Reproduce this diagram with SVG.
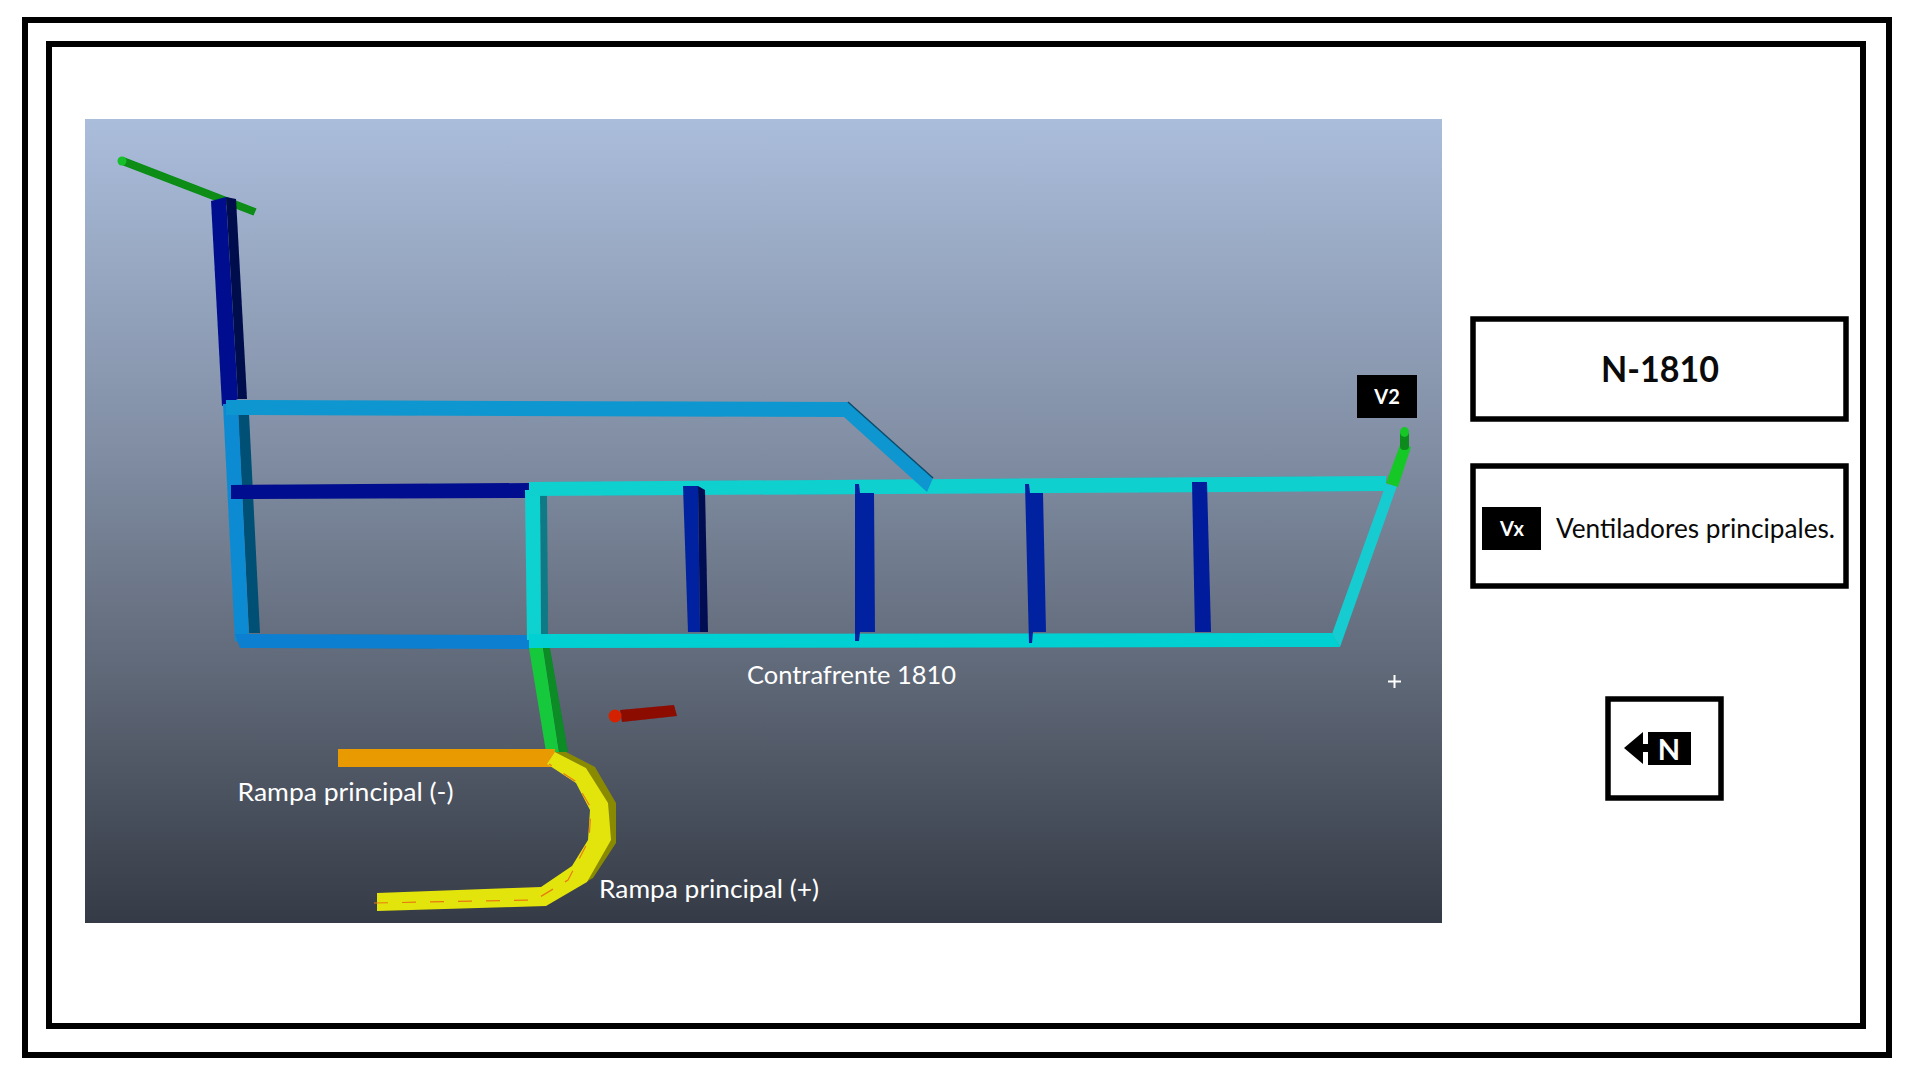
<svg xmlns="http://www.w3.org/2000/svg" width="1919" height="1079" viewBox="0 0 1919 1079">
<style>
.frame{fill:none;stroke:#000;stroke-width:6}
.box{fill:#fff;stroke:#000;stroke-width:5.5}
.w{fill:#fff;font-family:"Lato","Open Sans",sans-serif}
.k{fill:#0a0a0a;font-family:"Lato","Open Sans",sans-serif}
.b{font-weight:700}
.lbl{font-size:25px}
.dash{fill:none;stroke:#e87a10;stroke-width:1.2;stroke-dasharray:14 14}
</style>
<defs>
<linearGradient id="sky" x1="0" y1="0" x2="0" y2="1">
<stop offset="0" stop-color="#aabddb"/>
<stop offset=".4" stop-color="#828fa5"/>
<stop offset=".7" stop-color="#5e6776"/>
<stop offset="1" stop-color="#353b46"/>
</linearGradient>
<filter id="soft" x="-5%" y="-5%" width="110%" height="110%"><feGaussianBlur stdDeviation="0.6"/></filter>
</defs>
<rect width="1919" height="1079" fill="#fff"/>
<rect class="frame" x="25" y="20" width="1864" height="1035"/>
<rect class="frame" x="49" y="44" width="1814" height="982"/>
<rect id="scene" x="85" y="119" width="1357" height="804" fill="url(#sky)"/>
<g id="connectors" filter="url(#soft)">
<polygon points="123.5,157 256.5,208.5 253.5,215.5 120.5,164.5" fill="#078c12"/>
<circle cx="122" cy="161" r="4.5" fill="#14c02a"/>
<polygon points="211,201 226,197 238,399 222,406" fill="#00108e"/>
<polygon points="226,197 236,199 247,399 238,399" fill="#000a4e"/>
<polygon points="238,414 249,414 260,633 249,633" fill="#004f75"/>
<polygon points="223,404 238,404 249,636 235,642" fill="#0e8bd2"/>
<polygon points="231,485 529,483 529,498 231,499" fill="#00108e"/>
<polygon points="235,634 529,635 529,649 240,648" fill="#0a7fd0"/>
<polygon points="540,495 547,495 548,634 541,634" fill="#087a85"/>
<polygon points="525,490 540,490 541,640 527,640" fill="#0fd2cf"/>
<polygon points="529,482 1386,476 1386,491 529,496" fill="#0dd0cf"/>
<polygon points="529,634 1332,633 1340,647 529,648" fill="#05d0d2"/>
<polygon points="1386,484 1397,486 1340,647 1332,634" fill="#14ccd0"/>
<polygon points="226,400 848,402 933,478 927,492 844,417 226,415" fill="#0b96d0"/>
<polyline points="848,402 933,478" fill="none" stroke="#0a4a6a" stroke-width="1.5"/>
<polygon points="683,486 698,486 700,632 688,632" fill="#0022a0"/>
<polygon points="698,486 705,490 708,632 700,632" fill="#000a52"/>
<polygon points="855,484 859,484 860,493 874,493 875,632 860,632 859,641 855,641" fill="#0022a0"/>
<polygon points="1025,484 1029,484 1030,493 1043,493 1046,632 1033,632 1032,643 1029,643" fill="#0022a0"/>
<polygon points="1192,482 1207,482 1211,632 1195,632" fill="#001a9c"/>
<polygon points="529,648 543,648 559,752 546,752" fill="#14c83a"/>
<polygon points="543,648 550,648 568,752 559,752" fill="#078c28"/>
<rect x="338" y="749" width="217" height="18" fill="#e89a06"/>
<polygon points="566,752 595,767 616,803 616,843 593,878 586,882 607,803 586,768 555,752" fill="#8a8a06"/>
<polygon points="555,752 586,768 608,803 611,840 587,882 546,906 377,911 377,893 541,887 572,866 588,840 590,810 576,783 547,764" fill="#e4e40a"/>
<polyline class="dash" points="374,903 535,900 568,880 589,840 591,808 575,781 549,764"/>
<polygon points="620,710 674,705 677,716 622,722" fill="#8c0a00"/>
<circle cx="615" cy="716" r="6.5" fill="#d42400"/>
<polygon points="1386,483 1398,487 1411,447 1400,445" fill="#14c828"/>
<rect x="1400" y="430" width="9" height="20" rx="4" fill="#0a8a1e"/>
<ellipse cx="1404.5" cy="432" rx="4.5" ry="5" fill="#14c828"/>
</g>
<g id="v2"><rect x="1357" y="375" width="60" height="43" fill="#000"/><text class="w b" x="1387" y="404" font-size="20" text-anchor="middle">V2</text></g>
<text class="w lbl" x="747" y="683.5" textLength="209" lengthAdjust="spacingAndGlyphs">Contrafrente 1810</text>
<text class="w lbl" x="237.5" y="800.5" textLength="216" lengthAdjust="spacingAndGlyphs">Rampa principal (-)</text>
<text class="w lbl" x="599" y="897.5" textLength="220" lengthAdjust="spacingAndGlyphs">Rampa principal (+)</text>
<path id="plus" d="M1394.5 675V688M1388 681.5H1401" stroke="#fff" stroke-width="2" fill="none"/>
<g id="title"><rect class="box" x="1473" y="319" width="373" height="100"/><text class="k b" x="1660" y="382" font-size="36" text-anchor="middle" textLength="118" lengthAdjust="spacingAndGlyphs">N-1810</text></g>
<g id="legend"><rect class="box" x="1473" y="466" width="373" height="120"/><rect x="1482" y="507" width="59" height="43" fill="#000"/><text class="w b" x="1512" y="536" font-size="20" text-anchor="middle">Vx</text><text class="k" x="1556" y="538" font-size="26" textLength="279" lengthAdjust="spacingAndGlyphs">Ventiladores principales.</text></g>
<g id="north"><rect class="box" x="1608" y="699" width="113" height="99"/><polygon points="1624,748 1643,732 1643,744 1648,744 1648,732 1691,732 1691,765 1648,765 1648,752 1643,752 1643,764" fill="#000"/><text class="w b" x="1669" y="760" font-size="29" text-anchor="middle">N</text></g>
</svg>
